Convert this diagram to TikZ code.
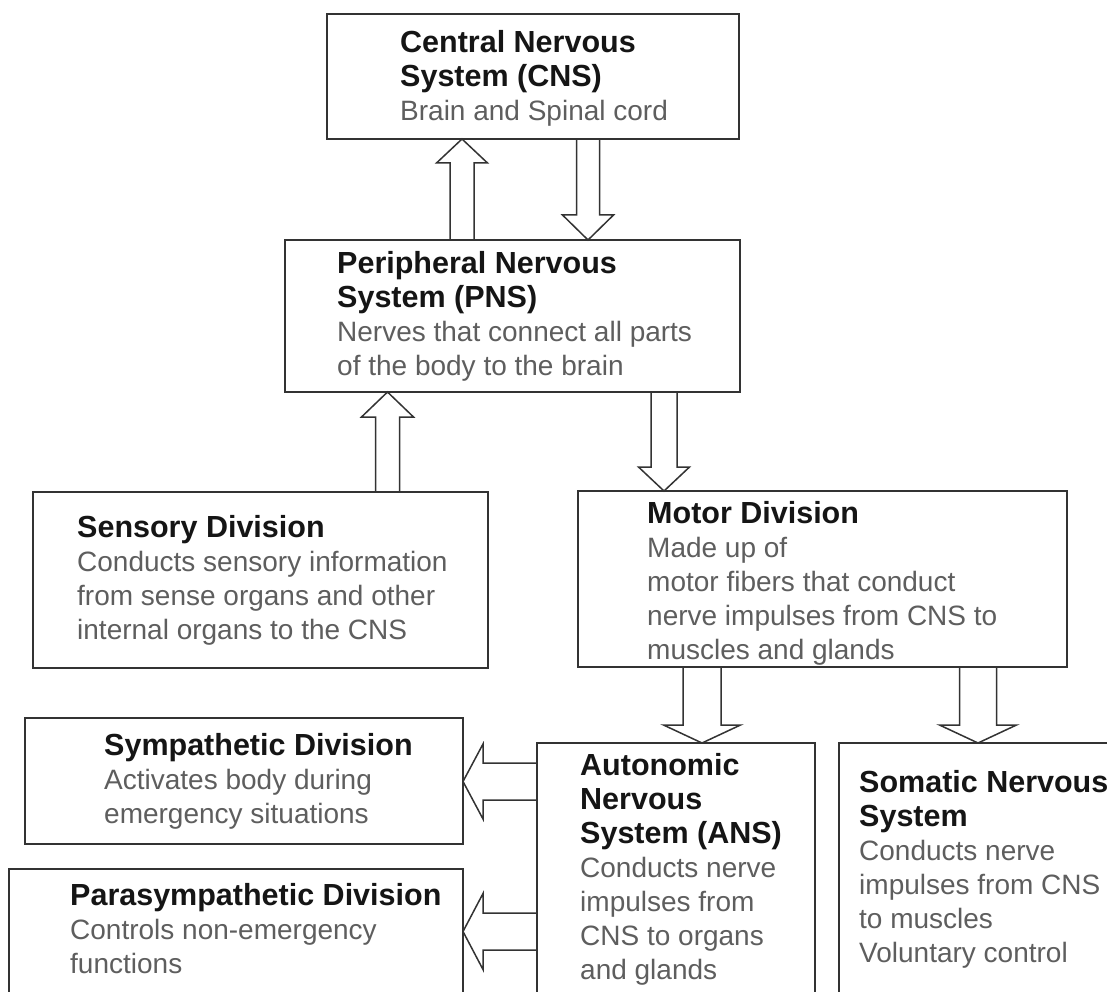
\documentclass[tikz,border=0pt]{standalone}
\usepackage{fontspec}
\setmainfont{Liberation Sans}
\usetikzlibrary{calc}
\definecolor{boxline}{HTML}{333333}
\definecolor{bodygray}{HTML}{5E5E5E}
\definecolor{titleblk}{HTML}{151515}
\tikzset{
  box/.style={draw=boxline, line width=1.8pt, inner sep=0pt, outer sep=0pt, anchor=north west, rectangle},
  txt/.style={anchor=north west, inner sep=0pt, align=left, font=\fontsize{28}{34}\selectfont, text=bodygray},
  barrow/.style={draw=boxline, line width=1.5pt, line join=miter},
}
\newcommand\ttl[1]{{\color{titleblk}\fontsize{30.5}{34}\selectfont\bfseries #1}}
% vertical block arrow: #1 x, #2 from, #3 to, #4 shaft half width, #5 head half width, #6 head length
\newcommand\varrow[6]{%
  \draw[barrow] let \p1=(#1,0 |- #2), \p2=(#1,0 |- #3), \n1={sign(\y2-\y1)} in
    ({\x1-#4pt},\y1) -- ({\x1-#4pt},{\y2-\n1*#6pt}) -- ({\x1-#5pt},{\y2-\n1*#6pt}) -- (\x1,\y2)
    -- ({\x1+#5pt},{\y2-\n1*#6pt}) -- ({\x1+#4pt},{\y2-\n1*#6pt}) -- ({\x1+#4pt},\y1);}
% horizontal block arrow: #1 y
\newcommand\harrow[6]{%
  \draw[barrow] let \p1=(#2 |- 0,#1), \p2=(#3 |- 0,#1), \n1={sign(\x2-\x1)} in
    (\x1,{\y1-#4pt}) -- ({\x2-\n1*#6pt},{\y1-#4pt}) -- ({\x2-\n1*#6pt},{\y1-#5pt}) -- (\x2,\y1)
    -- ({\x2-\n1*#6pt},{\y1+#5pt}) -- ({\x2-\n1*#6pt},{\y1+#4pt}) -- (\x1,{\y1+#4pt});}
\begin{document}
\begin{tikzpicture}[x=1pt,y=-1pt]
\useasboundingbox (0,0) rectangle (1107,992);
\clip (0,0) rectangle (1107,992);
\fill[white] (0,0) rectangle (1107,992);
% boxes
\node[box, minimum width=412pt, minimum height=125pt] (cns) at (327,14) {};
\node[box, minimum width=455pt, minimum height=152pt] (pns) at (285,240) {};
\node[box, minimum width=455pt, minimum height=176pt] (sens) at (33,492) {};
\node[box, minimum width=489pt, minimum height=176pt] (motor) at (578,491) {};
\node[box, minimum width=438pt, minimum height=126pt] (symp) at (25,718) {};
\node[box, minimum width=454pt, minimum height=160pt] (para) at (9,869) {};
\node[box, minimum width=278pt, minimum height=270pt] (ans) at (537,743) {};
\node[box, minimum width=290pt, minimum height=270pt] (som) at (839,743) {};
% texts
\node[txt] (cnsT) at (400,30) {\ttl{Central Nervous}\\\ttl{System (CNS)}\\Brain and Spinal cord};
\node[txt] (pnsT) at (337,251) {\ttl{Peripheral Nervous}\\\ttl{System (PNS)}\\Nerves that connect all parts\\of the body to the brain};
\node[txt] (sensT) at (77,515) {\ttl{Sensory Division}\\Conducts sensory information\\from sense organs and other\\internal organs to the CNS};
\node[txt] (motorT) at (647,501) {\ttl{Motor Division}\\Made up of\\motor fibers that conduct\\nerve impulses from CNS to\\muscles and glands};
\node[txt] (sympT) at (104,733) {\ttl{Sympathetic Division}\\Activates body during\\emergency situations};
\node[txt] (paraT) at (70,883) {\ttl{Parasympathetic Division}\\Controls non-emergency\\functions};
\node[txt] (ansT) at (580,753) {\ttl{Autonomic}\\\ttl{Nervous}\\\ttl{System (ANS)}\\Conducts nerve\\impulses from\\CNS to organs\\and glands};
\node[txt] (somT) at (859,770) {\ttl{Somatic Nervous}\\\ttl{System}\\Conducts nerve\\impulses from CNS\\to muscles\\Voluntary control};
% arrows
\varrow{462}{pns.north}{cns.south}{12}{25.5}{24}
\varrow{588}{cns.south}{pns.north}{11.5}{25.5}{25}
\varrow{387.5}{sens.north}{pns.south}{12}{26}{25}
\varrow{664}{pns.south}{motor.north}{13}{25.5}{24}
\varrow{702}{motor.south}{ans.north}{19}{38.5}{18}
\varrow{978}{motor.south}{som.north}{18.5}{38.5}{18}
\harrow{781.5}{ans.west}{symp.east}{18.5}{37.5}{20}
\harrow{931.5}{ans.west}{para.east}{18.5}{38}{20}
\end{tikzpicture}
\end{document}
